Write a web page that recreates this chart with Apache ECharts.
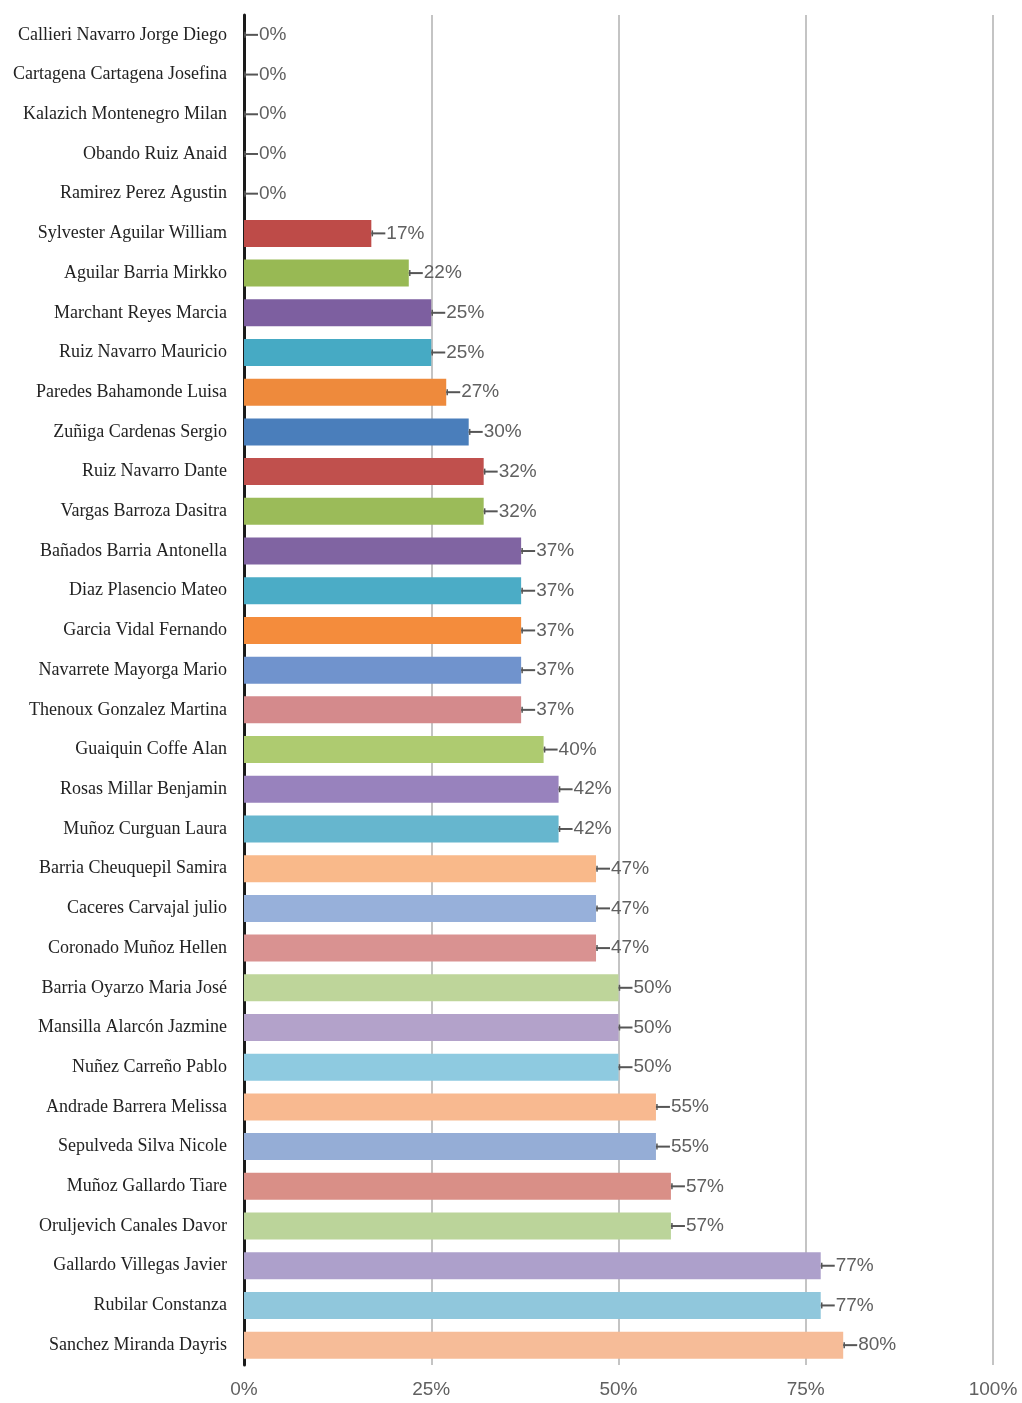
<!DOCTYPE html>
<html>
<head>
<meta charset="utf-8">
<script src="https://cdn.jsdelivr.net/npm/echarts@6/dist/echarts.min.js"></script>
<style>
  html, body { margin: 0; padding: 0; background: #fff; }
  #chart { width: 1022px; height: 1403px; }
</style>
</head>
<body>
<div id="chart"></div>
<script>
// nombres (de arriba hacia abajo)
const names = [
  'Callieri Navarro Jorge Diego', 'Cartagena Cartagena Josefina', 'Kalazich Montenegro Milan',
  'Obando Ruiz Anaid', 'Ramirez Perez Agustin', 'Sylvester Aguilar William',
  'Aguilar Barria Mirkko', 'Marchant Reyes Marcia', 'Ruiz Navarro Mauricio',
  'Paredes Bahamonde Luisa', 'Zuñiga Cardenas Sergio', 'Ruiz Navarro Dante',
  'Vargas Barroza Dasitra', 'Bañados Barria Antonella', 'Diaz Plasencio Mateo',
  'Garcia Vidal Fernando', 'Navarrete Mayorga Mario', 'Thenoux Gonzalez Martina',
  'Guaiquin Coffe Alan', 'Rosas Millar Benjamin', 'Muñoz Curguan Laura',
  'Barria Cheuquepil Samira', 'Caceres Carvajal julio', 'Coronado Muñoz Hellen',
  'Barria Oyarzo Maria José', 'Mansilla Alarcón Jazmine', 'Nuñez Carreño Pablo',
  'Andrade Barrera Melissa', 'Sepulveda Silva Nicole', 'Muñoz Gallardo Tiare',
  'Oruljevich Canales Davor', 'Gallardo Villegas Javier', 'Rubilar Constanza',
  'Sanchez Miranda Dayris'
]

// porcentaje
const values = [
  0, 0, 0, 0, 0, 17,
  22, 25, 25, 27, 30, 32,
  32, 37, 37, 37, 37, 37,
  40, 42, 42, 47, 47, 47,
  50, 50, 50, 55, 55, 57,
  57, 77, 77, 80
]

// color de cada barra
const colors = [
  '#4F81BD', '#C0504D', '#9BBB59', '#8064A2', '#4BACC6', '#BE4B48',
  '#98B954', '#7D5FA0', '#46AAC4', '#EE8A3C', '#4A7EBB', '#C0504D',
  '#9BBB59', '#8064A2', '#4BACC6', '#F48C3C', '#7093CD', '#D48A8C',
  '#AECB70', '#9882BD', '#66B6CE', '#F9B98A', '#97B0DA', '#D99291',
  '#BED59A', '#B3A2CA', '#8ECAE0', '#F8B990', '#95ADD6', '#D98F87',
  '#BBD49A', '#ADA0CB', '#90C7DC', '#F6BC98'
]

const xTicks = [0, 25, 50, 75, 100]

const chart = echarts.init(document.getElementById('chart'))

const option = {
  animation: false,
  backgroundColor: '#fff',
  grid: { left: 244, right: 29, top: 15, bottom: 38, containLabel: false },
  xAxis: {
    type: 'value',
    min: xTicks[0],
    max: xTicks[xTicks.length - 1],
    interval: 25,
    axisLine: { show: false },
    axisTick: { show: false },
    splitLine: { show: true, lineStyle: { color: '#c4c4c4', width: 2 } },
    axisLabel: {
      formatter: '{value}%',
      color: '#606060',
      fontFamily: 'Liberation Sans',
      fontSize: 19,
      margin: 15
    }
  },
  yAxis: {
    type: 'category',
    inverse: true,
    data: names,
    axisLine: { show: true, lineStyle: { color: '#1a1a1a', width: 3 } },
    axisTick: { show: false },
    axisLabel: {
      color: '#222',
      fontFamily: 'Liberation Serif',
      fontSize: 18,
      margin: 17
    }
  },
  series: [
    {
      type: 'bar',
      barWidth: 27,
      data: values.map((v, i) => ({ value: v, itemStyle: { color: colors[i] } })),
      label: {
        show: true,
        position: 'right',
        distance: 15,
        formatter: '{c}%',
        color: '#606060',
        fontFamily: 'Liberation Sans',
        fontSize: 19
      },
      z: 2
    },
    {
      // barrita de error al final de cada barra
      type: 'custom',
      silent: true,
      z: 3,
      data: values.map((v, i) => [v, i]),
      encode: { x: 0, y: 1 },
      renderItem: (params, api) => {
        const p = api.coord([api.value(0), api.value(1)])
        return {
          type: 'group',
          children: [
            {
              type: 'line',
              shape: { x1: p[0], y1: p[1], x2: p[0] + 14, y2: p[1] },
              style: { stroke: '#555', lineWidth: 2 }
            },
            {
              type: 'line',
              shape: { x1: p[0] + 1, y1: p[1] - 3, x2: p[0] + 1, y2: p[1] + 3 },
              style: { stroke: '#555', lineWidth: 1.5 }
            }
          ]
        }
      }
    }
  ]
}

chart.setOption(option)
</script>
</body>
</html>
